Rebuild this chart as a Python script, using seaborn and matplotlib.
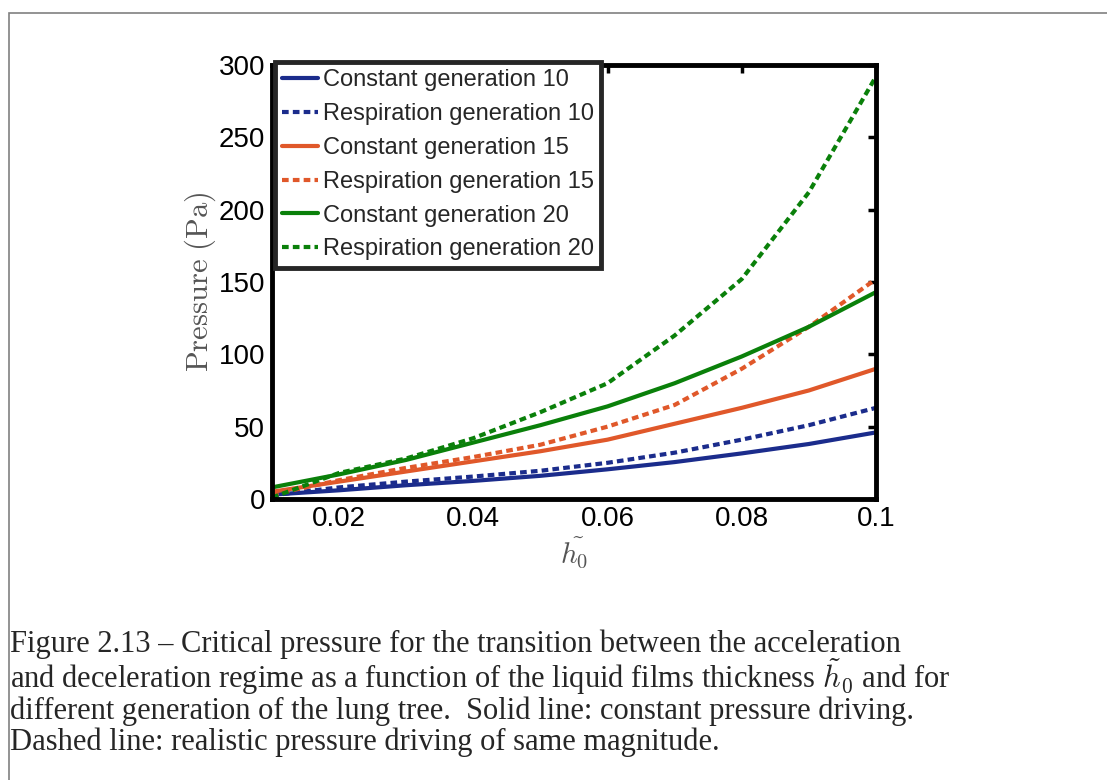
import numpy as np
import pandas as pd
import matplotlib
matplotlib.use('Agg')
import matplotlib.pyplot as plt
from matplotlib.patches import Rectangle
import seaborn as sns

# film thickness h0 (x axis)
h0 = [0.01, 0.02, 0.03, 0.04, 0.05, 0.06, 0.07, 0.08, 0.09, 0.10]

# critical pressure (Pa)
const_g10 = [3, 6, 9.5, 12.5, 16, 20.5, 25.5, 31.5, 38, 46]
resp_g10 = [2.5, 8, 12, 15.5, 19.5, 25, 32, 41, 51, 63]
const_g15 = [5, 12, 19, 26, 33, 41, 52, 63, 75, 90]
resp_g15 = [3, 13, 21.5, 29, 37.5, 50, 65, 90, 119, 152]
const_g20 = [8, 17, 27, 39, 51, 64, 80, 98.5, 119, 143]
resp_g20 = [1, 18, 28, 42, 60, 80, 113, 152, 212, 292]

labels = ['Constant generation 10', 'Respiration generation 10',
          'Constant generation 15', 'Respiration generation 15',
          'Constant generation 20', 'Respiration generation 20']
series = [const_g10, resp_g10, const_g15, resp_g15, const_g20, resp_g20]
colors = ['#1b2c8c', '#1b2c8c', '#e0582a', '#e0582a', '#0a800a', '#0a800a']
solid = [True, False, True, False, True, False]

xticks = [0.02, 0.04, 0.06, 0.08, 0.1]
xticklabels = ['0.02', '0.04', '0.06', '0.08', '0.1']
yticks = [0, 50, 100, 150, 200, 250, 300]

sns.set_style('white')
plt.rcParams['font.family'] = ['Liberation Sans', 'DejaVu Sans']
plt.rcParams['mathtext.fontset'] = 'cm'

fig = plt.figure(figsize=(11.07, 7.8), dpi=100)
ax = fig.add_axes([0.2457, 0.3603, 0.5456, 0.5564])

for lab, vals, col, s in zip(labels, series, colors, solid):
    ls = '-' if s else (0, (1.6, 1.0))
    sns.lineplot(x=h0, y=vals, ax=ax, color=col, linewidth=3, linestyle=ls, label=lab)

ax.set_xlim(0.01, 0.1)
ax.set_ylim(0, 300)
ax.set_xticks(xticks, xticklabels)
ax.set_yticks(yticks)
ax.tick_params(direction='in', length=6, width=2.5, top=True, right=True,
               labelsize=20, pad=5, colors='black')
for sp in ax.spines.values():
    sp.set_linewidth(3.5)
    sp.set_color('black')

ax.set_ylabel(r'$\mathrm{Pressure\ (Pa)}$', fontsize=22, color='#555555')
ax.yaxis.set_label_coords(-0.09, 0.5)
ax.set_xlabel(r'$\tilde{h_0}$', fontsize=21, color='#555555')
ax.xaxis.set_label_coords(0.5, -0.085)

leg = ax.legend(loc='upper left', bbox_to_anchor=(0.005, 1.006), borderaxespad=0,
                fontsize=17, handlelength=1.5, handletextpad=0.25, labelspacing=0.5,
                borderpad=0.3, frameon=True, fancybox=False, framealpha=1)
leg.get_frame().set_edgecolor('#262626')
leg.get_frame().set_linewidth(3.5)

# caption and page frame
fig.patches.append(Rectangle((9 / 1107, -0.2), 1.3, 1.2 - 13 / 780, transform=fig.transFigure,
                             fill=False, edgecolor='#808080', linewidth=1.2))
caption = ['Figure 2.13 \u2013 Critical pressure for the transition between the acceleration',
           r'and deceleration regime as a function of the liquid films thickness $\tilde{h}_0$ and for',
           'different generation of the lung tree.  Solid line: constant pressure driving.',
           'Dashed line: realistic pressure driving of same magnitude.']
baselines = [652, 688, 719, 750]
for line, yb in zip(caption, baselines):
    fig.text(10 / 1107, 1 - yb / 780, line, fontsize=22,
             family=['Liberation Serif', 'DejaVu Serif'], va='baseline', ha='left')

fig.savefig('out.png', dpi=100)
